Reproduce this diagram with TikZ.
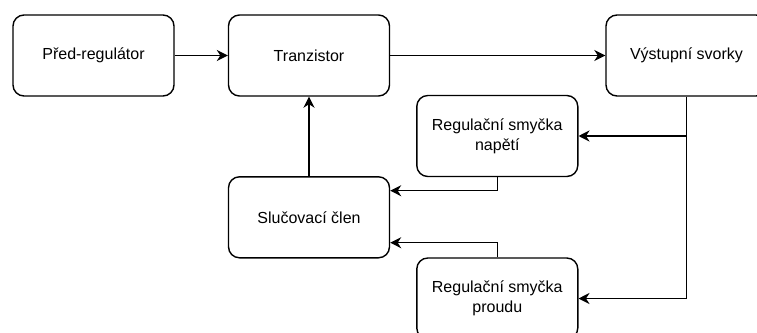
\documentclass[tikz,border=0pt]{standalone}
\usepackage{fontspec}
\setmainfont{Liberation Sans}
\usetikzlibrary{arrows.meta}
\begin{document}
\begin{tikzpicture}[x=1pt,y=-1pt,
  blk/.style={draw=black,line width=1.4pt,rounded corners=11pt,minimum width=161pt,minimum height=81pt,inner sep=0pt,align=center,font=\fontsize{16}{20}\selectfont},
  arr/.style={line width=1.5pt,-{Stealth[length=11pt,width=11pt,inset=3.5pt]}}]
\useasboundingbox (0,0) rectangle (757,332);
\begin{scope}
\clip (0,0) rectangle (757,332);
\node[blk] (b1) at (93.5,55.5) {Před-regulátor};
\node[blk] (b2) at (309,55.5) {Tranzistor};
\node[blk] (b3) at (686.5,55.5) {Výstupní svorky};
\node[blk] (b4) at (497.3,136) {Regulační smyčka\\napětí};
\node[blk] (b5) at (309,217.3) {Slučovací člen};
\node[blk] (b6) at (497.3,298.5) {Regulační smyčka\\proudu};
\draw[arr] (b1) -- (b2);
\draw[arr] (b2) -- (b3);
\draw[arr] (b5) -- (b2);
\draw[arr] (b3.south) |- (b6.east);
\draw[arr] (b3.south |- b4.east) -- (b4.east);
\draw[arr] (b4.south) |- ([yshift=26.6pt]b5.east);
\draw[arr] (b6.north) |- ([yshift=-25.4pt]b5.east);
\end{scope}
\end{tikzpicture}
\end{document}
